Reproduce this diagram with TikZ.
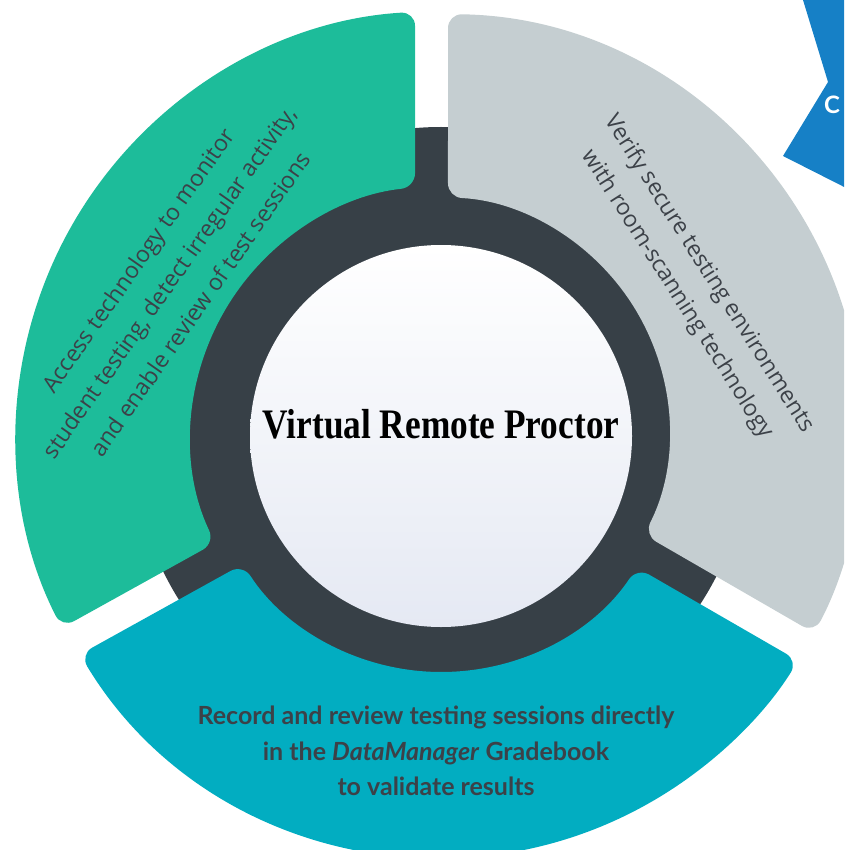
\documentclass[tikz,border=0pt]{standalone}
\usepackage{fontspec}
\usepackage{tikz}
\usetikzlibrary{calc}
\newfontfamily\opensans{Open Sans}
\newfontfamily\lato{Lato}
\newfontfamily\titlefont{Liberation Serif}
\definecolor{segGreen}{HTML}{1DBC9A}
\definecolor{segGrey}{HTML}{C5CED1}
\definecolor{segTeal}{HTML}{02ADC1}
\definecolor{ringDark}{HTML}{374047}
\definecolor{chevBlue}{HTML}{1680C6}
\definecolor{txtDark}{HTML}{3C4148}
\definecolor{hubBottom}{HTML}{E5E9F3}
\tikzset{
  segtext/.style={align=center, inner sep=0pt, text=txtDark, font=\opensans\fontsize{23}{38}\selectfont},
  bottomtext/.style={align=center, inner sep=0pt, text=txtDark, font=\lato\bfseries\fontsize{25}{35.5}\selectfont}
}

\begin{document}
\begin{tikzpicture}[x=1pt,y=1pt]
\useasboundingbox (0,-850) rectangle (844,0);
\clip (0,-850) rectangle (844,0);
\coordinate (O) at (441,-436);
\coordinate (G) at (436,-430);
\fill[ringDark] (O) circle (309);

\pgfmathsetmacro\gAi{90+asin(26/250)}
\pgfmathsetmacro\gAo{90+asin(26/425)}
\pgfmathsetmacro\gBo{209-asin(16/425)}
\pgfmathsetmacro\gBi{209-asin(16/250)}
\coordinate (g1) at ($(O)+(\gAi:250)$);
\coordinate (g2) at ($(O)+(\gAo:425)$);
\coordinate (g4) at ($(O)+(\gBi:250)$);
\fill[segGreen, rounded corners=14pt] ($(g1)!.5!(g2)$) -- (g2) arc[start angle=\gAo, end angle=\gBo, radius=425] -- (g4) arc[start angle=\gBi, end angle=\gAi, radius=250] -- cycle;

\pgfmathsetmacro\qAo{90-asin(7/422)}
\pgfmathsetmacro\qBo{-30+asin(16/422)}
\coordinate (q1) at ($(G)+(87.05:233)$);
\coordinate (q2) at ($(O)+(\qAo:422)$);
\coordinate (q3) at ($(G)+(-26.72:233)$);
\fill[segGrey, rounded corners=14pt] ($(q1)!.5!(q2)$) -- (q2) arc[start angle=\qAo, end angle=\qBo, radius=422] -- (q3) arc[start angle=-26.72, end angle=87.05, radius=233] -- cycle;

\pgfmathsetmacro\tAi{209+asin(16/236)}
\pgfmathsetmacro\tAo{209+asin(16/422)}
\pgfmathsetmacro\tBo{330-asin(16/422)}
\pgfmathsetmacro\tBi{330-asin(16/236)}
\coordinate (t1) at ($(O)+(\tAi:236)$);
\coordinate (t2) at ($(O)+(\tAo:422)$);
\coordinate (t4) at ($(O)+(\tBi:236)$);
\fill[segTeal, rounded corners=14pt] ($(t1)!.5!(t2)$) -- (t2) arc[start angle=\tAo, end angle=\tBo, radius=422] -- (t4) arc[start angle=\tBi, end angle=\tAi, radius=236] -- cycle;

\shade[top color=white, bottom color=hubBottom] (O) circle (191);

\fill[chevBlue] (803,0) -- (828,-82) -- (783,-156) -- (860,-195) -- (860,0) -- cycle;
\node[anchor=base west, inner sep=0pt, text=white, font=\lato\bfseries\fontsize{24}{24}\selectfont] (chev) at (824,-114) {C};

\node[font=\titlefont\bfseries\fontsize{42}{42}\selectfont] (title) at (441,-424) {\scalebox{0.84}[1]{Virtual Remote Proctor}};
\node[segtext, rotate=55] (access) at (169,-282) {Access technology to monitor\\student testing, detect irregular activity,\\and enable review of test sessions};
\node[segtext, rotate=-57.5] (verify) at (693,-284) {Verify secure testing environments\\with room-scanning technology};
\node[bottomtext] (record) at (436,-751) {Record and review testing sessions directly\\in the \textit{DataManager} Gradebook\\to validate results};
\end{tikzpicture}
\end{document}
